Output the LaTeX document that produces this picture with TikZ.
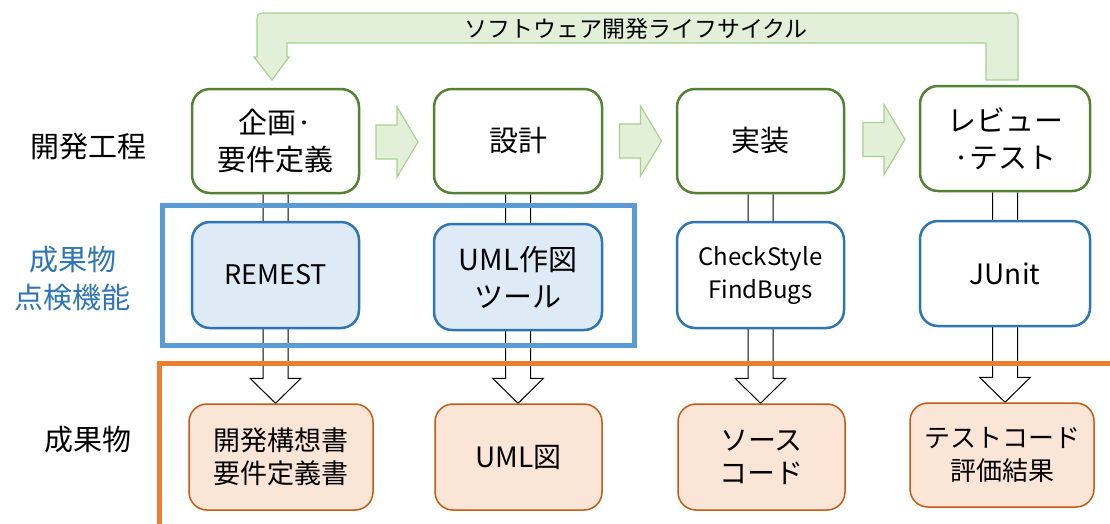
\documentclass[tikz,border=0pt]{standalone}
\usepackage{fontspec}
\setmainfont{Noto Sans CJK JP}
\usetikzlibrary{calc}
\definecolor{pgreen}{HTML}{548235}
\definecolor{agreenfill}{HTML}{E2F0D9}
\definecolor{agreen}{HTML}{A9D18E}
\definecolor{tblue}{HTML}{2E75B6}
\definecolor{tbluefill}{HTML}{DEEBF7}
\definecolor{frameblue}{HTML}{5B9BD5}
\definecolor{oorange}{HTML}{C55A11}
\definecolor{oorangefill}{HTML}{FBE5D6}
\definecolor{frameorange}{HTML}{ED7D31}
\pgfdeclarelayer{bg}
\pgfsetlayers{bg,main}
\newcommand\flowarrow[2]{%
  \path[flowstyle] let \p1=(#1.south), \p2=(#2.north) in
    (\x1-12.5pt,\y1) -- (\x1-12.5pt,\y2+25pt) -- (\x1-25.5pt,\y2+25pt) -- (\x1,\y2)
    -- (\x1+25.5pt,\y2+25pt) -- (\x1+12.5pt,\y2+25pt) -- (\x1+12.5pt,\y1);}
\newcommand\stagearrow[1]{%
  \path[stagestyle] let \p1=(#1) in
    (\x1-21pt,\y1-17pt) -- (\x1,\y1-17pt) -- (\x1,\y1-35pt) -- (\x1+21pt,\y1)
    -- (\x1,\y1+35pt) -- (\x1,\y1+17pt) -- (\x1-21pt,\y1+17pt) -- cycle;}
\begin{document}
\begin{tikzpicture}[x=1pt,y=-1pt,
  box/.style={rounded corners=18pt, align=center, inner sep=0pt},
  procbox/.style={box, draw=pgreen, line width=2.5pt, fill=white, font=\fontsize{29}{37}\selectfont},
  toolbox/.style={box, draw=tblue, line width=2.5pt, fill=white},
  outbox/.style={box, draw=oorange, line width=1.5pt, fill=oorangefill},
  rowlabel/.style={align=center, inner sep=0pt, font=\fontsize{29}{38}\selectfont},
  flowstyle/.style={draw=black, fill=white, line width=1pt},
  stagestyle/.style={draw=agreen, fill=agreenfill, line width=1.2pt},
]
\useasboundingbox (0,0) rectangle (1110,523);

% process row
\node[procbox, minimum width=167, minimum height=104] (P1) at (275.5,141) {企画·\\要件定義};
\node[procbox, minimum width=168, minimum height=104] (P2) at (518,141) {設計};
\node[procbox, minimum width=167, minimum height=104] (P3) at (760.5,141) {実装};
\node[procbox, minimum width=170, minimum height=105] (P4) at (1005,138.5) {レビュー\\·テスト};

% tool row
\node[toolbox, fill=tbluefill, minimum width=167, minimum height=106, font=\fontsize{27}{35}\selectfont] (T1) at (275.5,275) {REMEST};
\node[toolbox, fill=tbluefill, minimum width=168, minimum height=106, font=\fontsize{29}{37}\selectfont] (T2) at (518,277) {UML作図\\ツール};
\node[toolbox, minimum width=167, minimum height=106, font=\fontsize{24}{33}\selectfont] (T3) at (760.5,275) {CheckStyle\\FindBugs};
\node[toolbox, minimum width=170, minimum height=105, font=\fontsize{28}{35}\selectfont] (T4) at (1005,273.5) {JUnit};

% output row
\node[outbox, minimum width=184, minimum height=106, font=\fontsize{27}{33}\selectfont] (O1) at (281,457) {開発構想書\\要件定義書};
\node[outbox, minimum width=167, minimum height=106, font=\fontsize{28}{35}\selectfont] (O2) at (518.5,457) {UML図};
\node[outbox, minimum width=167, minimum height=106, font=\fontsize{28}{33}\selectfont] (O3) at (761.5,457) {ソース\\コード};
\node[outbox, minimum width=184, minimum height=104, font=\fontsize{26}{33}\selectfont] (O4) at (1002,455) {テストコード\\評価結果};

% row labels
\node[rowlabel] (L1) at (88,147) {開発工程};
\node[rowlabel, text=tblue] (L2) at (72.5,279) {成果物\\点検機能};
\node[rowlabel] (L3) at (88,440) {成果物};

% background and flow arrows (behind the nodes)
\begin{pgfonlayer}{bg}
\fill[white] (0,0) rectangle (1110,523);
\flowarrow{P1}{O1}
\flowarrow{P2}{O2}
\flowarrow{P3}{O3}
\flowarrow{P4}{O4}
\end{pgfonlayer}

% stage arrows
\coordinate (g1) at (397,142);
\coordinate (g2) at (640.5,141);
\coordinate (g3) at (884,139.5);
\stagearrow{g1}
\stagearrow{g2}
\stagearrow{g3}

% lifecycle return arrow
\draw[stagestyle] (257,57) -- (257,23) .. controls (257,13) .. (267,13) -- (1008,13)
  .. controls (1018,13) .. (1018,23) -- (1018,80) -- (986,80) -- (986,43) -- (287,43)
  -- (287,57) -- (289,57) -- (272,80) -- (254,57) -- cycle;
\node[inner sep=0pt, font=\fontsize{23}{28}\selectfont] (lifecycle) at (636,29) {ソフトウェア開発ライフサイクル};

% frames
\draw[frameblue, line width=5pt] (162,205.5) rectangle (634.5,345.5);
\draw[frameorange, line width=5pt] (159.5,530) -- (159.5,363.5) -- (1115,363.5);
\end{tikzpicture}
\end{document}
